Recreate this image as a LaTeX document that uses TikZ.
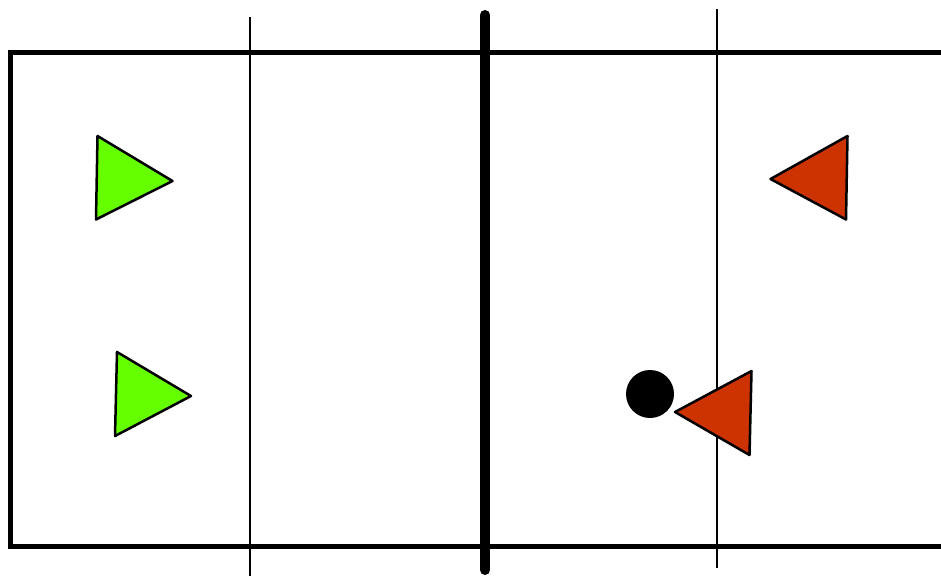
\documentclass[tikz,border=0pt]{standalone}
\begin{document}
\begin{tikzpicture}[x=1pt,y=-1pt,
  court/.style={line width=5pt},
  thinline/.style={line width=2.2pt},
  netline/.style={line width=10pt,line cap=round},
  greenp/.style={draw=black,line width=2.5pt,line join=round,fill={rgb,255:red,102;green,255;blue,0}},
  redp/.style={draw=black,line width=2.5pt,line join=round,fill={rgb,255:red,204;green,51;blue,0}}]
\useasboundingbox (0,0) rectangle (941,576);
\begin{scope}
\clip (0,0) rectangle (941,576);
\draw[court] (945,52) -- (10.5,52) -- (10.5,546) -- (945,546);
\draw[thinline] (250,17) -- (250,576);
\draw[thinline] (717,9) -- (717,568);
\draw[netline] (485,15) -- (485,570);
\end{scope}
\draw[greenp] (97.5,136) -- (96,219.5) -- (172.5,181) -- cycle;
\draw[greenp] (117,352) -- (115,436) -- (191,396) -- cycle;
\draw[redp] (847.5,136) -- (846,219.5) -- (770.5,179) -- cycle;
\draw[redp] (751.5,371) -- (749.5,455) -- (675,412) -- cycle;
\fill[black] (650,394) circle (24);
\end{tikzpicture}
\end{document}
